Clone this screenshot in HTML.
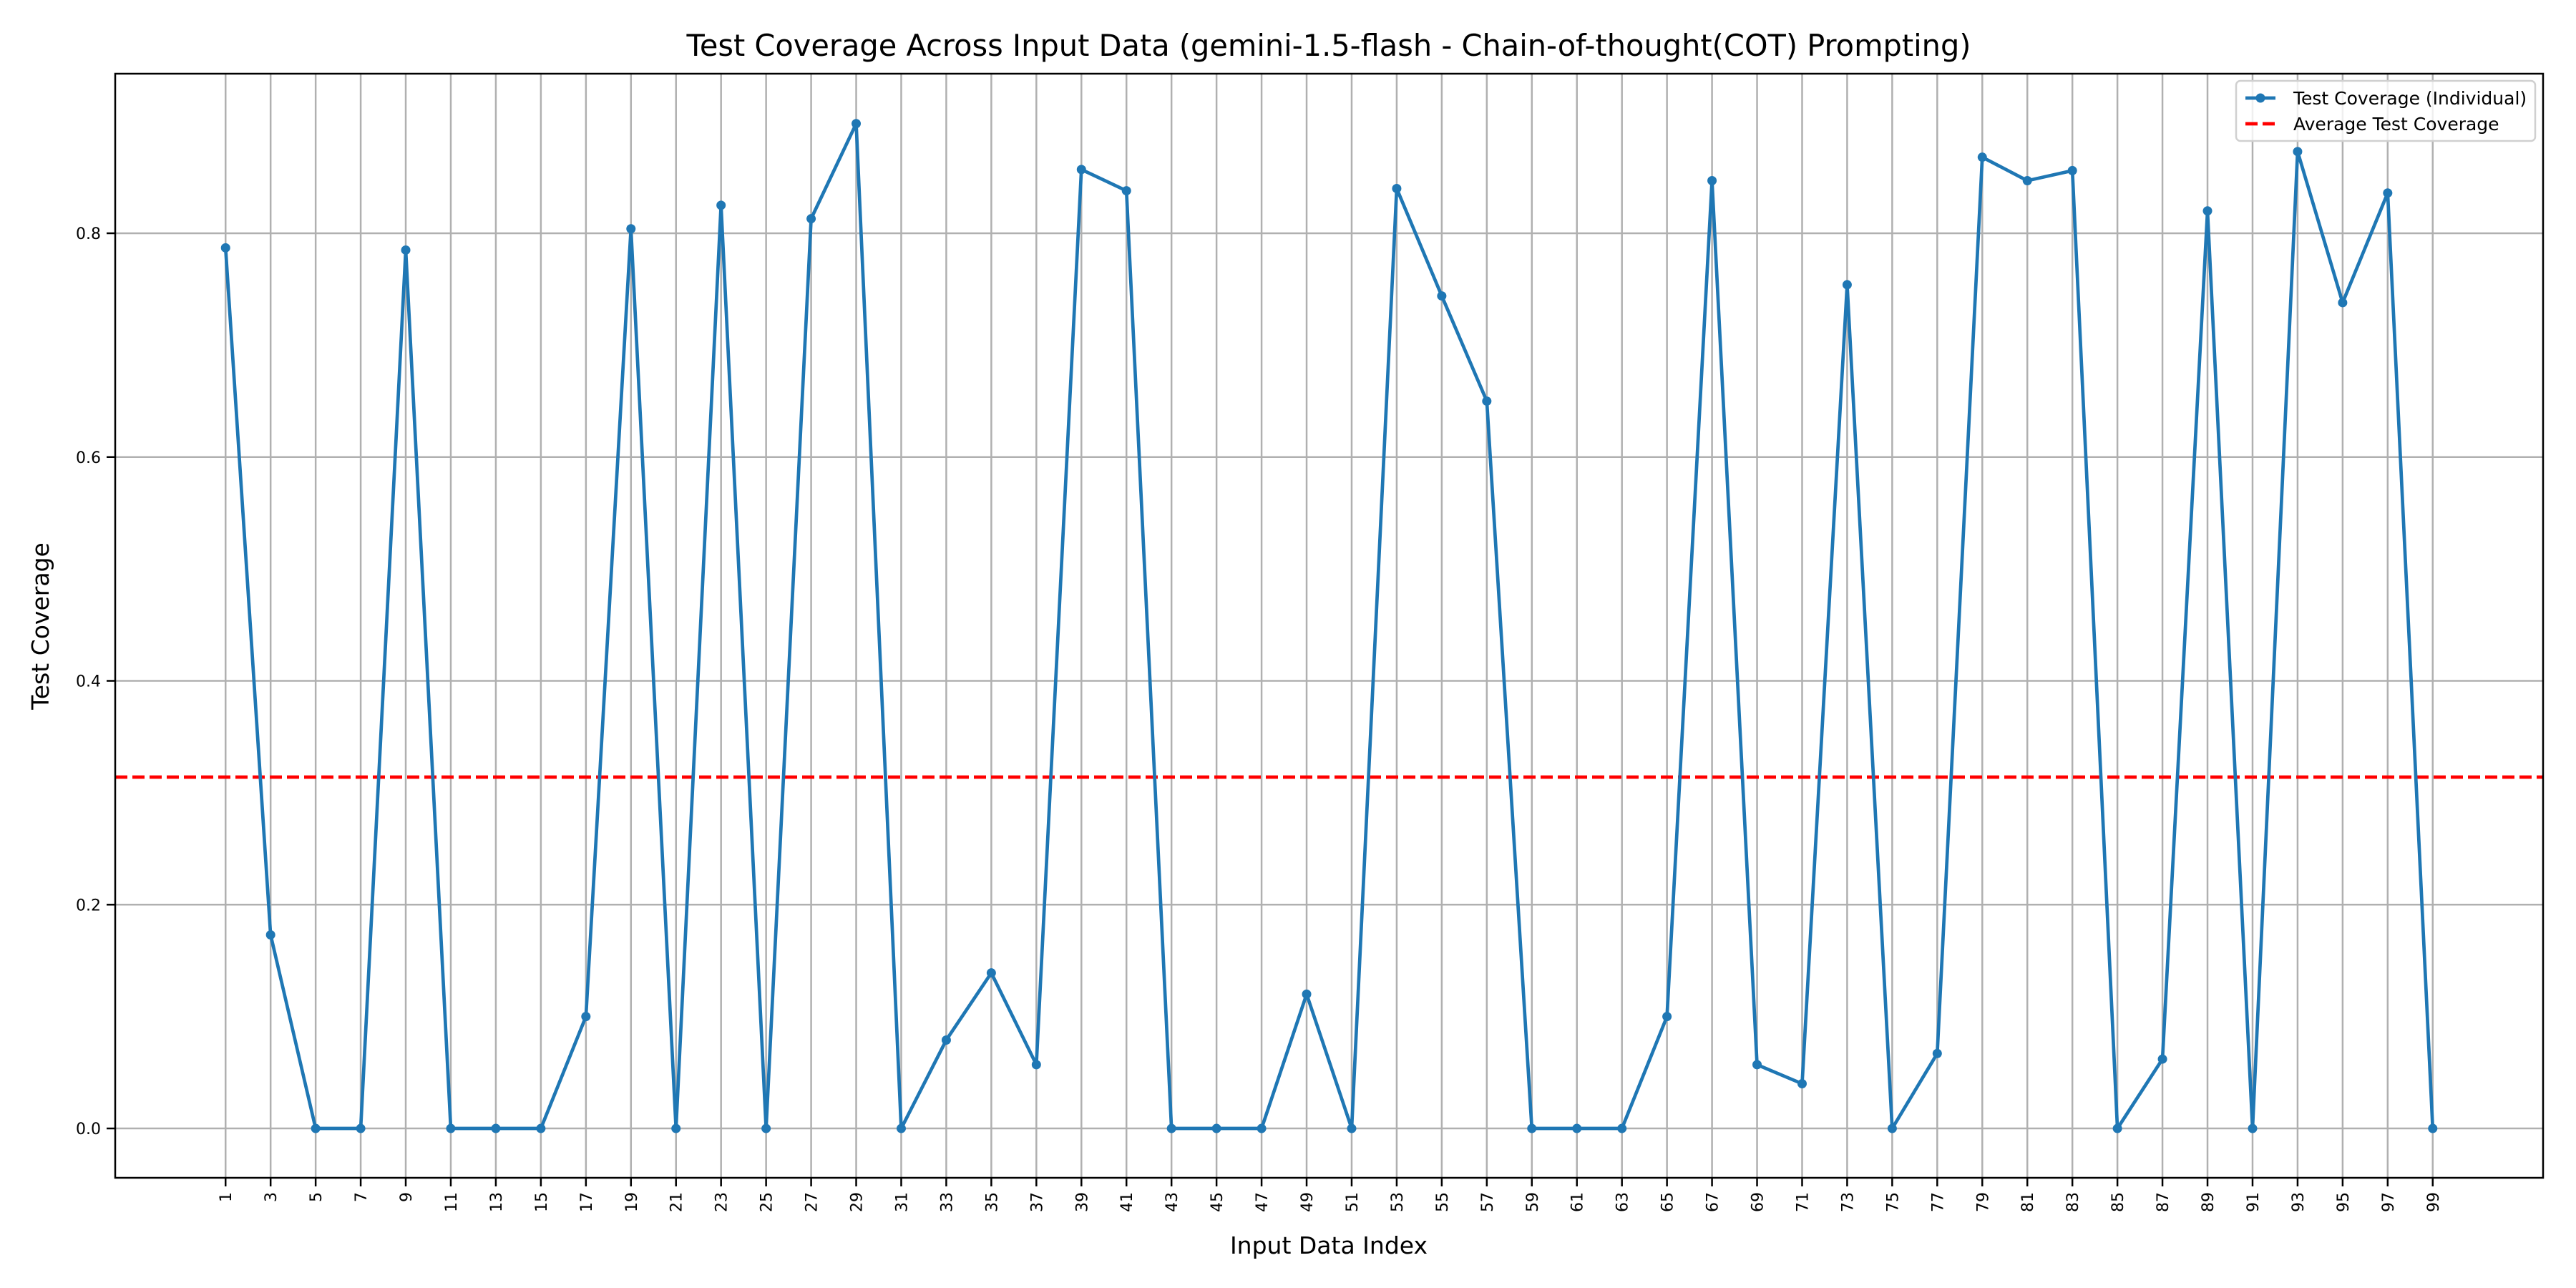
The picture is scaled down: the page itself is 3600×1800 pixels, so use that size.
<!DOCTYPE html>
<html><head><meta charset="utf-8"><style>
html,body{margin:0;padding:0;background:#fff}
svg{display:block;font-family:"DejaVu Sans","Liberation Sans",sans-serif}
</style></head><body>
<svg id="chart" width="3600" height="1800" viewBox="0 0 3600 1800" xmlns="http://www.w3.org/2000/svg">
<rect x="0" y="0" width="3600" height="1800" fill="#fff"/>
<g id="grid"></g>
<g id="avg"></g>
<g id="series"></g>
<g id="axes"></g>
<text x="1857" y="78" font-size="41.5" text-anchor="middle">Test Coverage Across Input Data (gemini-1.5-flash - Chain-of-thought(COT) Prompting)</text>
<text x="1857" y="1752" font-size="33" text-anchor="middle">Input Data Index</text>
<text x="68" y="875" font-size="33" text-anchor="middle" transform="rotate(-90 68 875)">Test Coverage</text>
<g>
<rect x="3125" y="113" width="418" height="84" rx="6" fill="#fff" fill-opacity="0.8" stroke="#d0d0d0" stroke-width="2.5"/>
<line x1="3138" y1="137" x2="3180" y2="137" stroke="#1f77b4" stroke-width="4.7"/>
<circle cx="3159" cy="137" r="6.5" fill="#1f77b4"/>
<text x="3205" y="146" font-size="25">Test Coverage (Individual)</text>
<line x1="3138" y1="173" x2="3180" y2="173" stroke="#ff0000" stroke-width="4.7" stroke-dasharray="17,7"/>
<text x="3205" y="182" font-size="25">Average Test Coverage</text>
</g>
</svg>
<script>
const indices = [];
for (let i = 1; i <= 99; i += 2) indices.push(i);
const coverage = [0.787,0.173,0,0,0.785,0,0,0,0.100,0.804,0,0.825,0,0.813,0.898,0,0.079,0.139,0.057,0.857,0.838,0,0,0,0.120,0,0.840,0.744,0.650,0,0,0,0.100,0.847,0.057,0.040,0.754,0,0.067,0.868,0.847,0.856,0,0.062,0.820,0,0.873,0.738,0.836,0];
const averageCoverage = [0.314];
const yTicks = [0.0,0.2,0.4,0.6,0.8];
const yTickLabels = ["0.0","0.2","0.4","0.6","0.8"];

const L=161,R=3554,T=103,B=1646;
const xMin=-3.9,xMax=103.9,yMin=-0.0441,yMax=0.9426;
const sx=v=>L+(v-xMin)/(xMax-xMin)*(R-L);
const sy=v=>B-(v-yMin)/(yMax-yMin)*(B-T);
const NS="http://www.w3.org/2000/svg";
function mk(tag,attrs,parent){const e=document.createElementNS(NS,tag);for(const k in attrs)e.setAttribute(k,attrs[k]);parent.appendChild(e);return e;}
const grid=document.getElementById('grid'),axes=document.getElementById('axes'),series=document.getElementById('series'),avg=document.getElementById('avg');

indices.forEach(i=>{
  const x=sx(i);
  const g=mk('line',{x1:x,y1:T,x2:x,y2:B,stroke:'#b0b0b0','stroke-width':2.5},grid);
  
  
  const t=mk('line',{x1:x,y1:B,x2:x,y2:B+12,stroke:'#000','stroke-width':2.5},axes);
  
  
  const lb=mk('text',{x:x+8,y:B+20,'font-size':22,'text-anchor':'end',transform:`rotate(-90 ${x+8} ${B+20})`},axes);
  
  
  lb.textContent=String(i);
});
yTicks.forEach((v,k)=>{
  const y=sy(v);
  const g=mk('line',{x1:L,y1:y,x2:R,y2:y,stroke:'#b0b0b0','stroke-width':2.5},grid);
  
  
  const t=mk('line',{x1:L-12,y1:y,x2:L,y2:y,stroke:'#000','stroke-width':2.5},axes);
  
  
  const lb=mk('text',{x:L-20,y:y+8,'font-size':22,'text-anchor':'end'},axes);
  
  
  lb.textContent=yTickLabels[k];
});
const fr=mk('rect',{x:L,y:T,width:R-L,height:B-T,fill:'none',stroke:'#000','stroke-width':2.5},axes);



const al=mk('line',{x1:L,y1:sy(averageCoverage[0]),x2:R,y2:sy(averageCoverage[0]),stroke:'#ff0000','stroke-width':4.7,'stroke-dasharray':'17,7'},avg);



const pts=indices.map((i,k)=>sx(i)+','+sy(coverage[k])).join(' ');
const pl=mk('polyline',{points:pts,fill:'none',stroke:'#1f77b4','stroke-width':4.7,'stroke-linejoin':'round'},series);


indices.forEach((i,k)=>{
  const c=mk('circle',{cx:sx(i),cy:sy(coverage[k]),r:6.5,fill:'#1f77b4'},series);
  
  
});
</script>
</body></html>
